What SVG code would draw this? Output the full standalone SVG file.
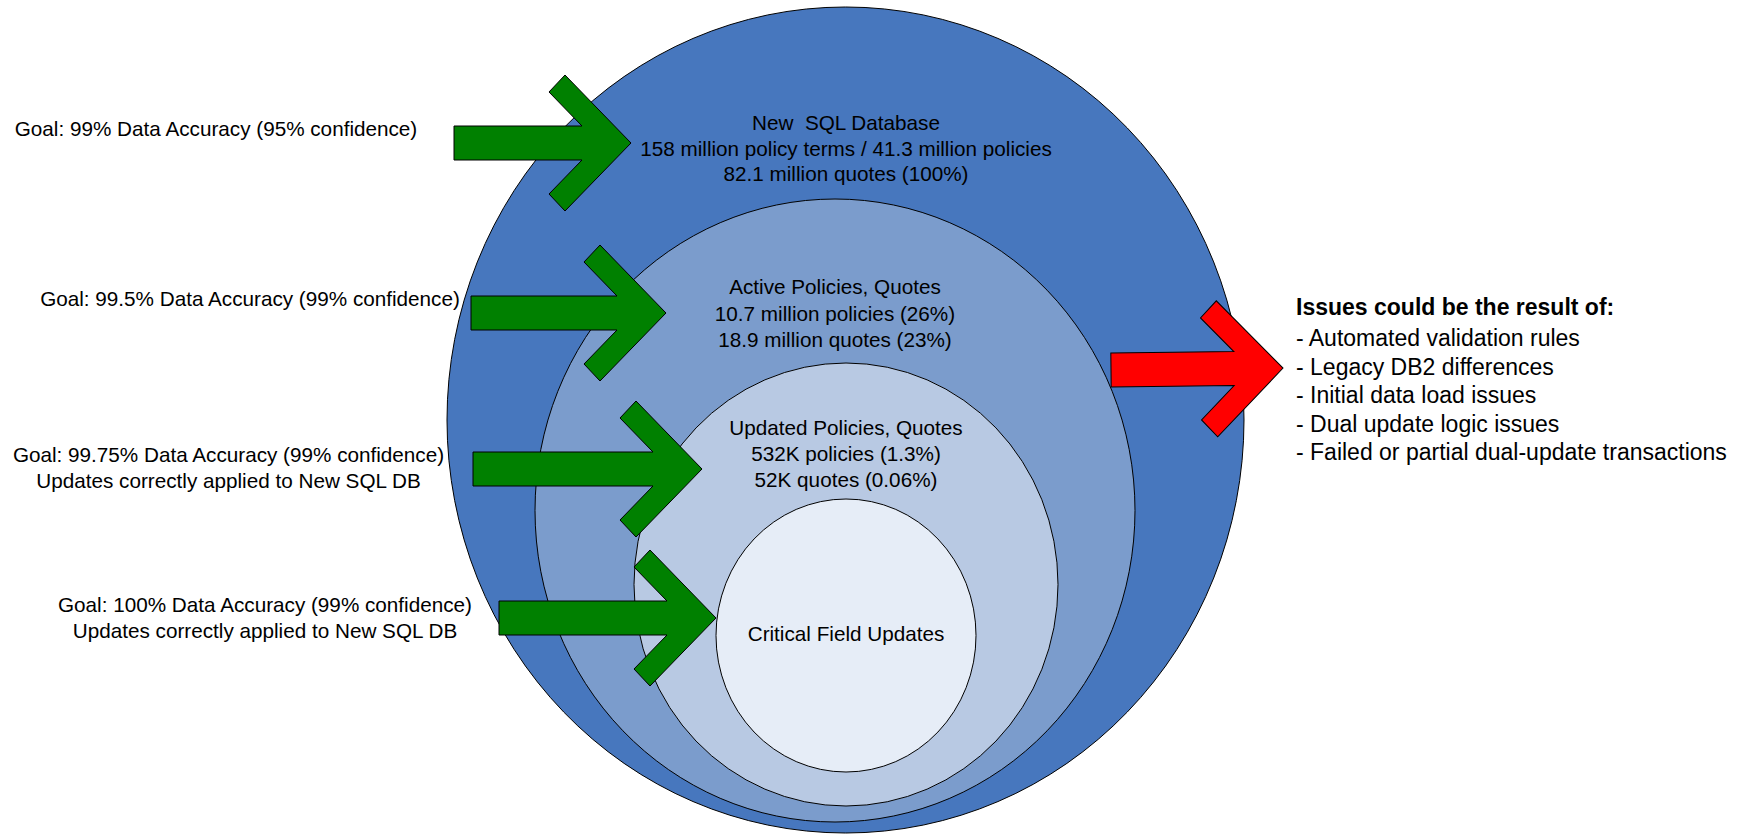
<svg xmlns="http://www.w3.org/2000/svg" width="1745" height="835" viewBox="0 0 1745 835">
  <style>
    .ring { stroke: #000; stroke-width: 1; }
    .lbl { font-family: "Liberation Sans", Arial, sans-serif; font-size: 20.7px; fill: #000; text-anchor: middle; white-space: pre; }
    .note { font-family: "Liberation Sans", Arial, sans-serif; font-size: 23px; fill: #000; }
    .note .head { font-weight: bold; }
    .go { fill: #008000; stroke: #000; stroke-width: 1; stroke-linejoin: miter; }
    .stop { fill: #ff0000; stroke: #000; stroke-width: 1; stroke-linejoin: miter; }
  </style>

  <rect width="1745" height="835" fill="#fff"/>

  <!-- nested data scopes -->
  <g id="new-sql-db">
    <ellipse class="ring" cx="845.5" cy="420" rx="398.5" ry="413" fill="#4777be"/>
    <text class="lbl" x="846" y="130" xml:space="preserve">New  SQL Database</text>
    <text class="lbl" x="846" y="155.5">158 million policy terms / 41.3 million policies</text>
    <text class="lbl" x="846" y="181">82.1 million quotes (100%)</text>
  </g>

  <g id="active">
    <ellipse class="ring" cx="835" cy="510.5" rx="300" ry="311.5" fill="#7b9ccc"/>
    <text class="lbl" x="835" y="294">Active Policies, Quotes</text>
    <text class="lbl" x="835" y="320.5">10.7 million policies (26%)</text>
    <text class="lbl" x="835" y="347">18.9 million quotes (23%)</text>
  </g>

  <g id="updated">
    <ellipse class="ring" cx="846" cy="584.5" rx="212" ry="221.5" fill="#b8c9e3"/>
    <text class="lbl" x="846" y="435">Updated Policies, Quotes</text>
    <text class="lbl" x="846" y="461">532K policies (1.3%)</text>
    <text class="lbl" x="846" y="487">52K quotes (0.06%)</text>
  </g>

  <g id="critical">
    <ellipse class="ring" cx="846" cy="635.5" rx="130" ry="136.5" fill="#e6edf7"/>
    <text class="lbl" x="846" y="641">Critical Field Updates</text>
  </g>

  <!-- accuracy goals -->
  <g id="goal-1">
    <text class="lbl" x="216" y="135.5">Goal: 99% Data Accuracy (95% confidence)</text>
  </g>
  <g id="goal-2">
    <text class="lbl" x="250" y="305.5">Goal: 99.5% Data Accuracy (99% confidence)</text>
  </g>
  <g id="goal-3">
    <text class="lbl" x="228.5" y="461.5">Goal: 99.75% Data Accuracy (99% confidence)</text>
    <text class="lbl" x="228.5" y="487.5">Updates correctly applied to New SQL DB</text>
  </g>
  <g id="goal-4">
    <text class="lbl" x="265" y="611.5">Goal: 100% Data Accuracy (99% confidence)</text>
    <text class="lbl" x="265" y="637.5">Updates correctly applied to New SQL DB</text>
  </g>

  <!-- causes -->
  <g id="issues" class="note">
    <text class="head" x="1296" y="314.5">Issues could be the result of:</text>
    <text x="1296" y="346">- Automated validation rules</text>
    <text x="1296" y="374.5">- Legacy DB2 differences</text>
    <text x="1296" y="403">- Initial data load issues</text>
    <text x="1296" y="431.5">- Dual update logic issues</text>
    <text x="1296" y="460">- Failed or partial dual-update transactions</text>
  </g>

  <!-- block arrows: shaft half-width 17, head reaches 68 above/below the tip -->
  <g id="connectors">
    <path class="go" d="M454,126 L582,126 L549,92 L565,75 L631,143 L565,211 L549,194 L582,160 L454,160 Z"/>
    <path class="go" d="M471,296 L617,296 L584,262 L600,245 L666,313 L600,381 L584,364 L617,330 L471,330 Z"/>
    <path class="go" d="M473,452 L653,452 L620,418 L636,401 L702,469 L636,537 L620,520 L653,486 L473,486 Z"/>
    <path class="go" d="M499,601 L667,601 L634,567 L650,550 L716,618 L650,686 L634,669 L667,635 L499,635 Z"/>
    <path class="stop" transform="rotate(-0.6 1197 369)" d="M1111,352 L1234,352 L1201,318 L1217,301 L1283,369 L1217,437 L1201,420 L1234,386 L1111,386 Z"/>
  </g>
</svg>
